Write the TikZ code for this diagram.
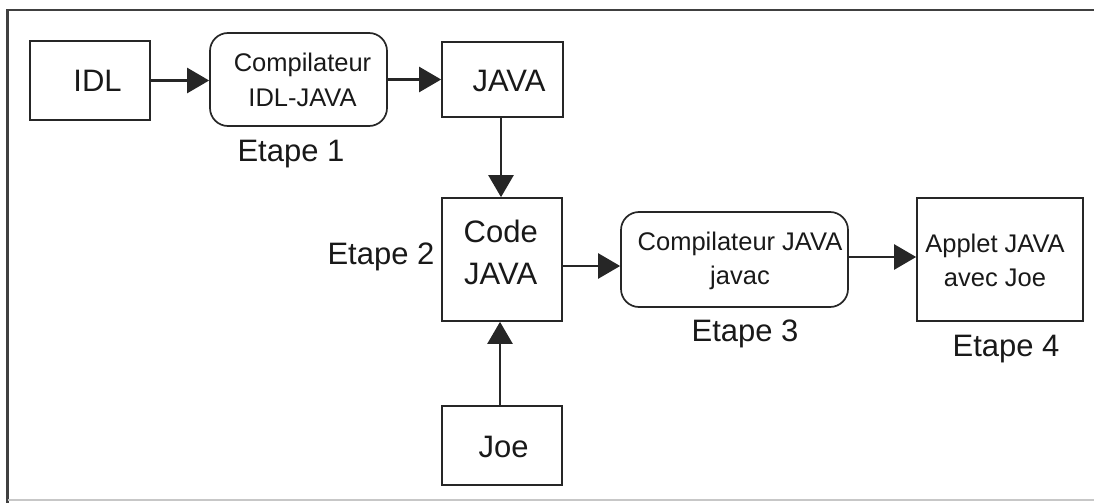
\documentclass[tikz,border=0pt]{standalone}
\usepackage{fontspec}
\setmainfont{Liberation Sans}
\usetikzlibrary{arrows.meta}
\tikzset{
  box/.style={draw=black!85, line width=1.7pt, inner sep=0pt},
  rbox/.style={box, rounded corners=18pt},
  txtbig/.style={inner sep=0pt, text=black!90, align=center, font=\fontsize{31}{41.5}\selectfont},
  txtsmall/.style={inner sep=0pt, text=black!90, align=center, font=\fontsize{25.5}{34.5}\selectfont},
  arr/.style={line width=2.5pt, draw=black!85, -{Triangle[length=22pt,width=25pt]}},
}
\begin{document}
\begin{tikzpicture}[x=1pt,y=-1pt]
\useasboundingbox (0,0) rectangle (1094,503);
% frame
\draw[line width=2.6pt, black!75] (1094,10) -- (7.7,10) -- (7.7,503);
\draw[line width=1.5pt, black!22] (7.7,500) -- (1094,500);
% boxes
\node[box, minimum width=120pt, minimum height=79pt] (idl) at (90,80.5) {};
\node[rbox, minimum width=177pt, minimum height=93pt] (c1) at (298.5,79.5) {};
\node[box, minimum width=121pt, minimum height=75pt] (java) at (502.5,79.5) {};
\node[box, minimum width=120pt, minimum height=123pt] (code) at (502,259.5) {};
\node[rbox, minimum width=227pt, minimum height=95pt] (c2) at (734.5,259.5) {};
\node[box, minimum width=166pt, minimum height=123pt] (applet) at (1000,259.5) {};
\node[box, minimum width=120pt, minimum height=79pt] (joe) at (502,445.5) {};
% texts
\node[txtbig] (tidl) at (97.6,80.5) {IDL};
\node[txtsmall] (tc1) at (302.5,80) {Compilateur\\IDL-JAVA};
\node[txtbig] (tjava) at (509,80.5) {JAVA};
\node[txtbig] (tcode) at (500.7,252.5) {Code\\JAVA};
\node[txtsmall] (tc2) at (740,261) {Compilateur JAVA\\javac};
\node[txtsmall] (tapplet) at (995,260.5) {Applet JAVA\\avec Joe};
\node[txtbig] (tjoe) at (503.6,447) {Joe};
\node[txtbig] (e1) at (291,154) {Etape 1};
\node[txtbig] (e2) at (381,257) {Etape 2};
\node[txtbig] (e3) at (745,334) {Etape 3};
\node[txtbig] (e4) at (1006,349) {Etape 4};
% arrows
\draw[arr] (idl.east) -- (idl.east -| c1.west);
\draw[arr] (c1.east) -- (c1.east -| java.west);
\draw[arr] ([xshift=-1.5pt]java.south) -- ([xshift=-1.5pt]java.south |- code.north);
\draw[arr] ([xshift=-2pt]joe.north) -- ([xshift=-2pt]joe.north |- code.south);
\draw[arr] ([yshift=-6.5pt]code.east) -- ([yshift=-6.5pt]code.east -| c2.west);
\draw[arr] ([yshift=2.5pt]c2.east) -- ([yshift=2.5pt]c2.east -| applet.west);
\end{tikzpicture}
\end{document}
